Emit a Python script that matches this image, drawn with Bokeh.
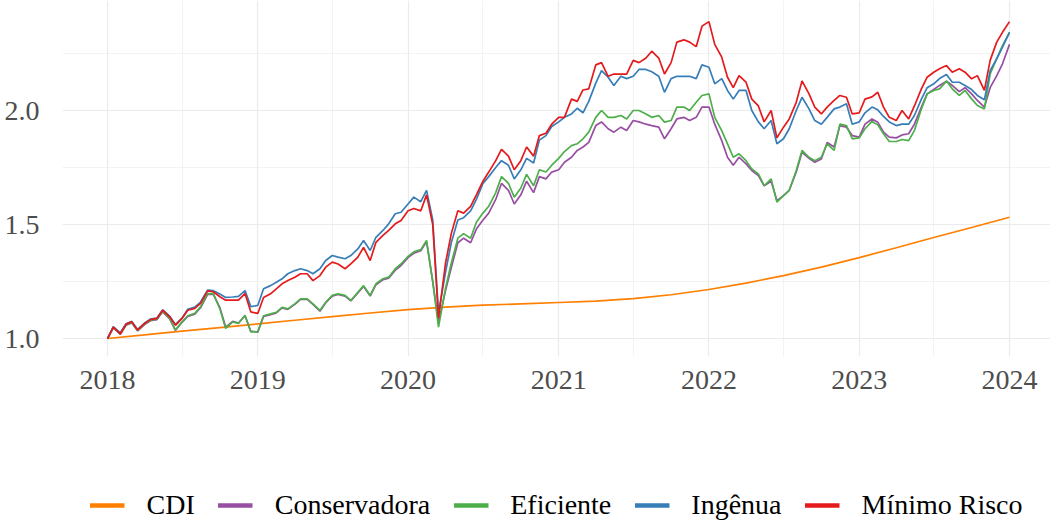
import pandas as pd
from bokeh.plotting import figure
from bokeh.layouts import column
from bokeh.models import (ColumnDataSource, FixedTicker, Range1d, Legend, LegendItem,
                          NumeralTickFormatter, DatetimeTickFormatter)
from bokeh.embed import file_html
from bokeh.resources import INLINE

FONT = "Liberation Serif"

series_names = ["CDI", "Conservadora", "Eficiente", "Ingênua", "Mínimo Risco"]
series_colors = ["#FF7F00", "#984EA3", "#4DAF4A", "#377EB8", "#E41A1C"]
year_labels = ["2018", "2019", "2020", "2021", "2022", "2023", "2024"]

# CDI, quarterly (smooth)
cdi = [1.000, 1.016, 1.032, 1.048, 1.064, 1.080, 1.096, 1.112, 1.127, 1.138, 1.146, 1.152,
       1.158, 1.164, 1.175, 1.192, 1.215, 1.243, 1.276, 1.313, 1.355, 1.398, 1.443, 1.487, 1.532]

# semi-monthly values, 2018-01 .. 2024-01
minimo_risco = (
    [1.00, 1.05, 1.02, 1.063, 1.073, 1.037, 1.066, 1.083, 1.088, 1.124, 1.095, 1.058,
     1.088, 1.124, 1.132, 1.154, 1.209, 1.205, 1.183, 1.168, 1.168, 1.168, 1.197, 1.117] +
    [1.11, 1.18, 1.196, 1.218, 1.24, 1.254, 1.269, 1.284, 1.284, 1.254, 1.276, 1.313,
     1.335, 1.327, 1.306, 1.327, 1.357, 1.40, 1.342, 1.422, 1.452, 1.474, 1.503, 1.518] +
    [1.56, 1.57, 1.56, 1.63, 1.50, 1.09, 1.33, 1.46, 1.56, 1.55, 1.58, 1.63,
     1.69, 1.73, 1.78, 1.83, 1.80, 1.74, 1.78, 1.84, 1.80, 1.89, 1.90, 1.94] +
    [1.97, 1.97, 2.05, 2.04, 2.09, 2.095, 2.20, 2.21, 2.15, 2.16, 2.16, 2.16,
     2.22, 2.21, 2.23, 2.26, 2.23, 2.16, 2.21, 2.30, 2.31, 2.30, 2.28, 2.37] +
    [2.39, 2.29, 2.234, 2.146, 2.10, 2.153, 2.124, 2.05, 2.02, 1.95, 2.0, 1.88,
     1.927, 1.963, 2.036, 2.13, 2.073, 2.015, 1.985, 2.015, 2.044, 2.066, 2.058, 1.985] +
    [1.99, 2.05, 2.06, 2.08, 2.015, 1.97, 1.956, 2.0, 1.963, 2.02, 2.095, 2.146,
     2.168, 2.183, 2.197, 2.168, 2.183, 2.168, 2.139, 2.153, 2.088, 2.22, 2.30, 2.343, 2.39]
)

ingenua = (
    [1.00, 1.052, 1.025, 1.065, 1.075, 1.04, 1.068, 1.085, 1.09, 1.126, 1.098, 1.062,
     1.09, 1.128, 1.138, 1.16, 1.212, 1.21, 1.195, 1.18, 1.182, 1.185, 1.21, 1.14] +
    [1.145, 1.218, 1.232, 1.247, 1.262, 1.284, 1.298, 1.306, 1.298, 1.284, 1.306, 1.342,
     1.364, 1.357, 1.35, 1.364, 1.393, 1.43, 1.386, 1.444, 1.474, 1.503, 1.547, 1.554] +
    [1.59, 1.62, 1.60, 1.65, 1.52, 1.11, 1.29, 1.42, 1.52, 1.53, 1.56, 1.61,
     1.68, 1.71, 1.75, 1.78, 1.76, 1.70, 1.74, 1.79, 1.77, 1.87, 1.89, 1.93] +
    [1.95, 1.97, 1.985, 2.01, 1.99, 2.04, 2.12, 2.175, 2.146, 2.11, 2.15, 2.14,
     2.15, 2.18, 2.18, 2.17, 2.15, 2.08, 2.14, 2.15, 2.15, 2.15, 2.14, 2.20] +
    [2.19, 2.117, 2.14, 2.088, 2.05, 2.088, 2.088, 2.0, 1.95, 1.92, 1.956, 1.854,
     1.876, 1.92, 2.0, 2.058, 2.007, 1.956, 1.94, 1.97, 2.007, 2.015, 2.03, 1.94] +
    [1.95, 1.99, 2.015, 2.003, 1.974, 1.95, 1.934, 1.94, 1.94, 1.978, 2.05, 2.10,
     2.117, 2.14, 2.158, 2.124, 2.124, 2.11, 2.092, 2.066, 2.047, 2.175, 2.227, 2.278, 2.343]
)

eficiente = (
    [1.00, 1.048, 1.02, 1.06, 1.07, 1.035, 1.063, 1.08, 1.085, 1.12, 1.088, 1.037,
     1.073, 1.10, 1.11, 1.139, 1.197, 1.197, 1.13, 1.044, 1.073, 1.066, 1.102, 1.029] +
    [1.03, 1.10, 1.108, 1.115, 1.137, 1.13, 1.152, 1.174, 1.174, 1.152, 1.123, 1.159,
     1.189, 1.196, 1.189, 1.167, 1.203, 1.232, 1.189, 1.24, 1.262, 1.269, 1.306, 1.327] +
    [1.36, 1.38, 1.39, 1.43, 1.25, 1.05, 1.22, 1.33, 1.44, 1.46, 1.44, 1.51,
     1.55, 1.58, 1.64, 1.71, 1.68, 1.62, 1.66, 1.72, 1.67, 1.74, 1.73, 1.76] +
    [1.79, 1.82, 1.846, 1.854, 1.876, 1.905, 1.97, 2.0, 1.97, 1.97, 1.978, 1.963,
     2.0, 2.0, 1.985, 1.97, 1.978, 1.949, 1.956, 2.015, 2.015, 2.0, 2.036, 2.066] +
    [2.073, 1.97, 1.912, 1.854, 1.795, 1.81, 1.78, 1.744, 1.722, 1.67, 1.70, 1.598,
     1.627, 1.65, 1.737, 1.825, 1.795, 1.78, 1.795, 1.854, 1.825, 1.94, 1.934, 1.876] +
    [1.88, 1.92, 1.952, 1.937, 1.898, 1.864, 1.864, 1.873, 1.868, 1.912, 2.007, 2.073,
     2.088, 2.095, 2.129, 2.095, 2.066, 2.088, 2.051, 2.022, 2.007, 2.16, 2.227, 2.285, 2.343]
)

conservadora = (
    [1.00, 1.047, 1.019, 1.058, 1.068, 1.034, 1.061, 1.078, 1.083, 1.117, 1.086, 1.036,
     1.071, 1.097, 1.107, 1.135, 1.193, 1.194, 1.135, 1.05, 1.075, 1.068, 1.10, 1.032] +
    [1.028, 1.097, 1.105, 1.112, 1.134, 1.128, 1.15, 1.172, 1.172, 1.15, 1.12, 1.157,
     1.186, 1.193, 1.186, 1.165, 1.2, 1.228, 1.186, 1.236, 1.258, 1.265, 1.30, 1.32] +
    [1.355, 1.374, 1.385, 1.425, 1.25, 1.07, 1.21, 1.31, 1.42, 1.44, 1.42, 1.48,
     1.52, 1.55, 1.61, 1.68, 1.65, 1.59, 1.63, 1.69, 1.64, 1.71, 1.70, 1.73] +
    [1.74, 1.773, 1.795, 1.825, 1.84, 1.86, 1.934, 1.95, 1.92, 1.905, 1.927, 1.912,
     1.956, 1.95, 1.94, 1.934, 1.927, 1.876, 1.92, 1.963, 1.97, 1.956, 1.97, 2.015] +
    [2.015, 1.94, 1.868, 1.795, 1.76, 1.795, 1.766, 1.737, 1.715, 1.67, 1.69, 1.605,
     1.627, 1.65, 1.73, 1.817, 1.79, 1.773, 1.787, 1.86, 1.84, 1.934, 1.927, 1.89] +
    [1.883, 1.94, 1.963, 1.949, 1.905, 1.883, 1.88, 1.893, 1.898, 1.94, 2.015, 2.073,
     2.092, 2.11, 2.129, 2.11, 2.083, 2.10, 2.073, 2.044, 2.015, 2.10, 2.153, 2.205, 2.29]
)

dates = pd.date_range("2018-01-01", periods=len(minimo_risco), freq="SMS")
cdi_dates = pd.date_range("2018-01-01", periods=len(cdi), freq="QS")


def ms(s):
    return pd.Timestamp(s).value // 10**6


DAY = 86400000
x_start = ms("2018-01-01") - 0.2994 * 365.25 * DAY
x_end = ms("2024-01-01") + 0.2727 * 365.25 * DAY

W = 1050
H_MAIN = 486
H_LEG = 37

p = figure(width=W, height=H_MAIN, x_axis_type="datetime", output_backend="svg",
           toolbar_location=None, x_range=Range1d(x_start, x_end),
           y_range=Range1d(0.9211, 2.4825))
p.min_border_left = 62
p.min_border_right = 0
p.min_border_top = 0
p.min_border_bottom = H_MAIN - 356
p.outline_line_color = None
p.background_fill_color = "white"
p.border_fill_color = "white"

major_years = [ms(y + "-01-01") for y in year_labels]
minor_years = [ms(y + "-07-01") for y in year_labels[:-1]]
p.xaxis.ticker = FixedTicker(ticks=major_years, minor_ticks=minor_years)
p.yaxis.ticker = FixedTicker(ticks=[1.0, 1.5, 2.0], minor_ticks=[1.25, 1.75, 2.25])
p.xaxis.formatter = DatetimeTickFormatter(years="%Y", months="%Y", days="%Y", hours="%Y",
                                          minutes="%Y", seconds="%Y", milliseconds="%Y",
                                          microseconds="%Y")
p.yaxis.formatter = NumeralTickFormatter(format="0.0")

for ax in (p.xaxis, p.yaxis):
    ax.axis_line_color = None
    ax.major_tick_line_color = None
    ax.minor_tick_line_color = None
    ax.major_label_text_font = FONT
    ax.major_label_text_font_size = "28px"
    ax.major_label_text_color = "#4D4D4D"
p.xaxis.major_label_standoff = 8
p.yaxis.major_label_standoff = 17

for g in (p.xgrid, p.ygrid):
    g.grid_line_color = "#EBEBEB"
    g.grid_line_width = 1.2
    g.minor_grid_line_color = "#EBEBEB"
    g.minor_grid_line_width = 0.6

# data lines
p.line(x=cdi_dates, y=cdi, color=series_colors[0], line_width=1.7)
for vals, col in zip([conservadora, eficiente, ingenua, minimo_risco], series_colors[1:]):
    src = ColumnDataSource(dict(x=dates, y=vals))
    p.line("x", "y", source=src, color=col, line_width=1.7)

# legend strip below the chart
pl = figure(width=W, height=H_LEG, output_backend="svg", toolbar_location=None,
            x_range=Range1d(0, 1), y_range=Range1d(0, 1),
            x_axis_location=None, y_axis_location=None, min_border=0)
pl.outline_line_color = None
pl.xgrid.visible = False
pl.ygrid.visible = False

items = []
for name, col in zip(series_names, series_colors):
    # key glyphs: a line placed outside the visible range, only its legend key shows
    r = pl.line(x=[5, 6], y=[5, 5], color=col, line_width=4.5)
    items.append(LegendItem(label=name, renderers=[r]))

legend = Legend(items=items, orientation="horizontal", location="center",
                border_line_color=None, background_fill_alpha=0, padding=0, margin=0,
                spacing=23, glyph_width=35, glyph_height=20, label_standoff=22,
                label_text_font=FONT, label_text_font_size="28px",
                label_text_color="#000000", label_height=20)
pl.add_layout(legend)

layout = column(p, pl, spacing=0)
open("out.html", "w").write(file_html(layout, INLINE))
